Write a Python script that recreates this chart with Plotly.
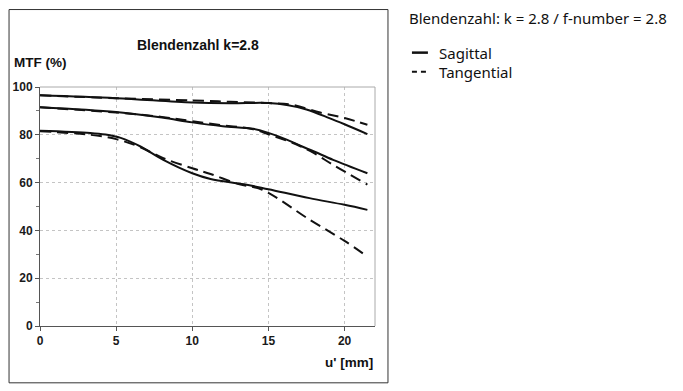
import plotly.graph_objects as go

# ---- data ----
top_sag_x = [0, 5, 10, 12.5, 15, 16.3, 17.5, 19, 20, 21.5]
top_sag_y = [96.5, 95.3, 93.5, 93.2, 93.3, 92.4, 90.6, 87.0, 84.4, 80.3]
top_tan_x = [0, 5, 10, 12.5, 15, 16.6, 18.4, 20, 21.5]
top_tan_y = [96.5, 95.3, 94.4, 93.8, 93.3, 92.5, 89.3, 87.0, 84.2]

mid_sag_x = [0, 5, 8, 10, 12, 14, 15, 16.2, 17.1, 18, 19.25, 21.5]
mid_sag_y = [91.5, 89.5, 87.2, 85.2, 83.6, 82.5, 80.8, 78.0, 75.4, 73.0, 69.5, 63.9]
mid_tan_x = [0, 5, 8, 10, 12, 14, 15, 16.2, 17.1, 18, 19.25, 21.5]
mid_tan_y = [91.5, 89.3, 87.5, 85.7, 84.0, 82.3, 80.2, 77.6, 75.2, 72.3, 67.4, 59.2]

low_sag_x = [0, 3.3, 4.3, 5.3, 6.6, 8.1, 10, 11.2, 13.4, 15, 17.7, 20, 21.5]
low_sag_y = [81.7, 80.8, 80.1, 78.7, 75.1, 69.5, 63.9, 61.5, 59.3, 57.2, 53.5, 50.7, 48.6]
low_tan_x = [0, 3.3, 5, 6.6, 8.1, 10, 11.2, 13.1, 14.6, 17.7, 20, 21.2]
low_tan_y = [81.5, 80.0, 78.2, 74.8, 70.2, 66.0, 63.6, 59.3, 57.0, 44.5, 35.6, 30.4]

x_ticks = [0, 5, 10, 15, 20]
y_ticks = [0, 20, 40, 60, 80, 100]

chart_title = "Blendenzahl k=2.8"
y_title = "MTF (%)"
x_title = "u' [mm]"
side_title = "Blendenzahl: k = 2.8 / f-number = 2.8"
legend_names = ["Sagittal", "Tangential"]

# page body has an 8px margin; figure is sized/positioned to compensate
W, H = 675, 383
L, R, T, B = 31.5, 308, 79.3, 65.2
PW, PH = W - L - R, H - T - B

def px(xs):  # screenshot x -> paper
    return (xs - 8 - L) / PW

def py(ys):  # screenshot y -> paper
    return (H - B - (ys - 8)) / PH

fig = go.Figure()
curves = [
    (top_sag_x, top_sag_y, "solid"), (top_tan_x, top_tan_y, "dash"),
    (mid_sag_x, mid_sag_y, "solid"), (mid_tan_x, mid_tan_y, "dash"),
    (low_sag_x, low_sag_y, "solid"), (low_tan_x, low_tan_y, "dash"),
]
for x, y, style in curves:
    fig.add_trace(go.Scatter(
        x=x, y=y, mode="lines",
        line=dict(color="#111111", width=2, shape="spline", smoothing=1.0,
                  dash="solid" if style == "solid" else "11px,6px"),
        showlegend=False, hoverinfo="skip"))

bold_font = dict(family="Arial, Liberation Sans, sans-serif", size=12, color="#1a1a1a")

fig.update_layout(
    width=W, height=H,
    margin=dict(l=L, r=R, t=T, b=B, pad=0),
    paper_bgcolor="white", plot_bgcolor="white",
    showlegend=False,
    xaxis=dict(range=[0, 22], tickvals=x_ticks, ticktext=[f"<b>{v}</b>" for v in x_ticks],
               showgrid=True, gridcolor="#c4c4c4", griddash="dot", gridwidth=1,
               showline=True, linecolor="#555555", linewidth=1,
               ticks="outside", ticklen=4, tickcolor="#555555",
               tickfont=bold_font, zeroline=False, fixedrange=True, automargin=False),
    yaxis=dict(range=[0, 100], tickvals=y_ticks, ticktext=[f"<b>{v}</b>" for v in y_ticks],
               showgrid=True, gridcolor="#c4c4c4", griddash="dot", gridwidth=1,
               showline=True, linecolor="#555555", linewidth=1,
               ticks="outside", ticklen=4, tickcolor="#555555",
               minor=dict(dtick=10, ticks="outside", ticklen=3, tickcolor="#777777", showgrid=False),
               tickfont=bold_font, zeroline=False, fixedrange=True, automargin=False),
)

# frame: top/right lighter border, outer box
fig.add_shape(type="line", xref="paper", yref="paper", x0=0, x1=1, y0=1, y1=1,
              line=dict(color="#aaaaaa", width=1))
fig.add_shape(type="line", xref="paper", yref="paper", x0=1, x1=1, y0=0, y1=1,
              line=dict(color="#aaaaaa", width=1))
fig.add_shape(type="rect", xref="paper", yref="paper",
              x0=px(8.5), x1=px(388), y0=py(382.5), y1=py(10),
              line=dict(color="#333333", width=1))

title_font = dict(family="Arial, Liberation Sans, sans-serif", size=14, color="#111111")
axis_title_font = dict(family="Arial, Liberation Sans, sans-serif", size=13.5, color="#111111")
fig.add_annotation(text=f"<b>{chart_title}</b>", xref="paper", yref="paper",
                   x=px(198), y=py(45), showarrow=False, xanchor="center", yanchor="middle",
                   font=title_font)
fig.add_annotation(text=f"<b>{y_title}</b>", xref="paper", yref="paper",
                   x=px(11), y=py(63), showarrow=False, xanchor="left", yanchor="middle",
                   font=axis_title_font)
fig.add_annotation(text=f"<b>{x_title}</b>", xref="paper", yref="paper",
                   x=px(375), y=py(362), showarrow=False, xanchor="right", yanchor="middle",
                   font=axis_title_font)

side_font = dict(family="Noto Sans, Open Sans, sans-serif", size=15, color="#111111")
fig.add_annotation(text=side_title, xref="paper", yref="paper",
                   x=px(407), y=py(18), showarrow=False, xanchor="left", yanchor="middle",
                   font=side_font)
for i, (name, dash) in enumerate(zip(legend_names, ["solid", "5px,4px"])):
    yy = 53 + i * 19
    fig.add_shape(type="line", xref="paper", yref="paper",
                  x0=px(412), x1=px(428), y0=py(yy), y1=py(yy),
                  line=dict(color="#111111", width=2.5 if i == 0 else 2, dash=dash))
    fig.add_annotation(text=name, xref="paper", yref="paper",
                       x=px(437), y=py(yy), showarrow=False, xanchor="left", yanchor="middle",
                       font=side_font)

fig.write_html("out.html")
